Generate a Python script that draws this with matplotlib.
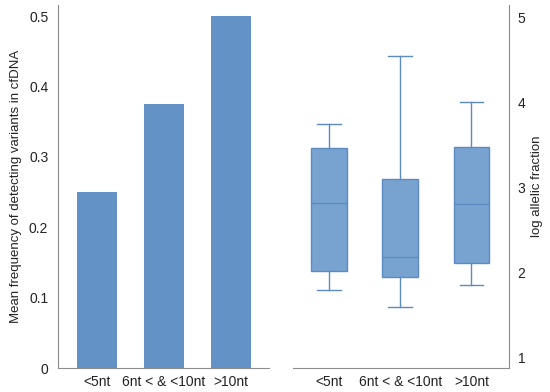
import matplotlib
matplotlib.use("Agg")
import matplotlib.pyplot as plt

plt.rcParams['font.family'] = ['Liberation Sans', 'DejaVu Sans']

# data
groups = ['<5nt', '6nt < & <10nt', '>10nt']
mean_freq = [0.25, 0.375, 0.5]

# box stats: whisker low, q1, median, q3, whisker high
whis_lo = [1.80, 1.60, 1.85]
q1 = [2.02, 1.95, 2.11]
med = [2.82, 2.18, 2.80]
q3 = [3.46, 3.10, 3.47]
whis_hi = [3.74, 4.54, 4.00]

bar_col = '#6393C6'
box_fill = '#78A3D0'
box_edge = '#5C8BC1'
spine_col = '#8C8C8C'
txt_col = '#222222'

fig = plt.figure(figsize=(5.5, 3.92), dpi=100)
ax1 = fig.add_axes([0.1055, 0.0612, 0.3835, 0.9258])
ax2 = fig.add_axes([0.533, 0.0612, 0.393, 0.9258])

# left: bar chart
x = range(len(groups))
ax1.bar(x, mean_freq, width=0.6, color=bar_col)
ax1.set_xlim(-0.58, 2.57)
ax1.set_ylim(0, 0.5156)
ax1.set_yticks([0, 0.1, 0.2, 0.3, 0.4, 0.5])
ax1.set_yticklabels(['0', '0.1', '0.2', '0.3', '0.4', '0.5'])
ax1.set_xticks(list(x))
ax1.set_xticklabels(groups, fontsize=10)
ax1.tick_params(axis='y', length=0, pad=7, labelsize=10, colors=txt_col)
ax1.tick_params(axis='x', length=0, pad=5, colors=txt_col)
ax1.set_ylabel('Mean frequency of detecting variants in cfDNA', fontsize=9.5,
               labelpad=5, color=txt_col)
for s in ['top', 'right']:
    ax1.spines[s].set_visible(False)
for s in ['left', 'bottom']:
    ax1.spines[s].set_color(spine_col)

# right: box plot from read stats
stats = []
for i, g in enumerate(groups):
    stats.append({'label': g, 'whislo': whis_lo[i], 'q1': q1[i], 'med': med[i],
                  'q3': q3[i], 'whishi': whis_hi[i], 'fliers': []})
ax2.bxp(stats, positions=list(x), widths=0.5, patch_artist=True, showfliers=False,
        boxprops=dict(facecolor=box_fill, edgecolor=box_edge, linewidth=1),
        medianprops=dict(color=box_edge, linewidth=1),
        whiskerprops=dict(color=box_edge, linewidth=1),
        capprops=dict(color=box_edge, linewidth=1), capwidths=0.33)
ax2.set_xlim(-0.5, 2.53)
ax2.set_ylim(0.88, 5.14)
ax2.set_yticks([1, 2, 3, 4, 5])
ax2.set_xticks(list(x))
ax2.set_xticklabels(groups, fontsize=10)
ax2.yaxis.tick_right()
ax2.yaxis.set_label_position('right')
ax2.tick_params(axis='y', length=0, pad=6, labelsize=10, colors=txt_col)
ax2.tick_params(axis='x', length=0, pad=5, colors=txt_col)
ax2.set_ylabel('log allelic fraction', fontsize=9.5, labelpad=4, color=txt_col)
for s in ['top', 'left']:
    ax2.spines[s].set_visible(False)
for s in ['right', 'bottom']:
    ax2.spines[s].set_color(spine_col)

fig.savefig('out.png', dpi=100)
